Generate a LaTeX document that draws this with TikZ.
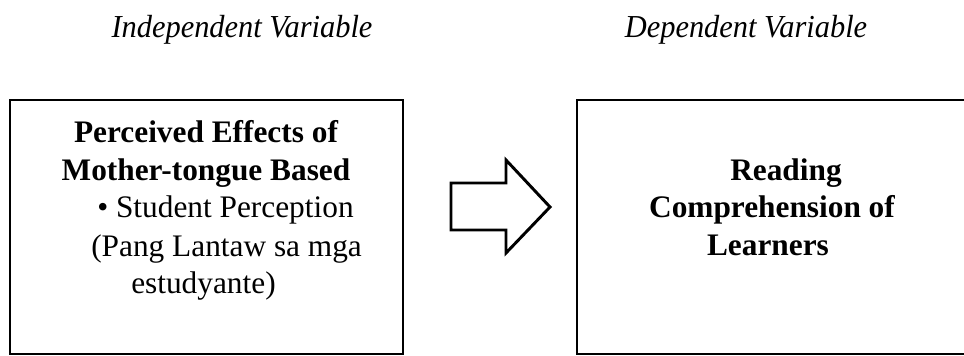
\documentclass[tikz,border=0pt]{standalone}
\usepackage{fontspec}
\setmainfont{Liberation Serif}
\begin{document}
\begin{tikzpicture}[x=0.75pt,y=-0.75pt,
  boxframe/.style={draw=black, line width=2.2pt, fill=white},
  title/.style={font=\fontsize{24}{28}\selectfont\itshape, inner sep=0pt, anchor=base},
  bodytext/.style={font=\fontsize{23.5}{28}\selectfont, inner sep=0pt, anchor=base west},
  boldtext/.style={font=\fontsize{23.5}{28}\selectfont\bfseries, inner sep=0pt, anchor=base},
  blockarrow/.style={draw=black, line width=2.2pt, fill=white, line join=miter}]
\useasboundingbox (0,0) rectangle (964,356);
% titles
\node[title] (indep) at (242,38) {\scalebox{0.95}[1]{Independent Variable}};
\node[title] (dep) at (746,38) {\scalebox{0.95}[1]{Dependent Variable}};
% boxes
\draw[boxframe] (10,100) rectangle (403,354);
\draw[boxframe] (577,100) rectangle (980,354);
% left box text
\node[boldtext] (l1) at (206,143) {Perceived Effects of};
\node[boldtext] (l2) at (206,181) {Mother-tongue Based};
\node[bodytext] (l3) at (97,218) {\textbullet\ Student Perception};
\node[bodytext] (l4) at (91,256) {(Pang Lantaw sa mga};
\node[bodytext] (l5) at (131,293) {estudyante)};
% right box text
\node[boldtext] (r1) at (786,181) {Reading};
\node[boldtext] (r2) at (772,218) {Comprehension of};
\node[boldtext] (r3) at (768,255) {Learners};
% block arrow
\draw[blockarrow] (451,183) -- (506,183) -- (506,160) -- (550,207) -- (506,253) -- (506,230) -- (451,230) -- cycle;
\end{tikzpicture}
\end{document}
